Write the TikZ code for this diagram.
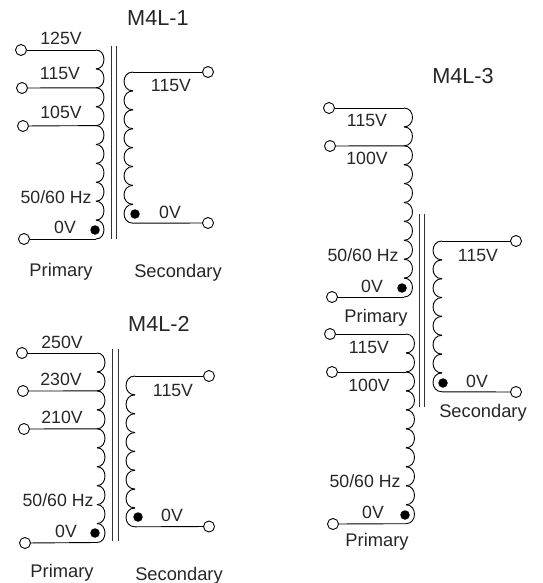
\documentclass[tikz,border=0pt]{standalone}
\usepackage{fontspec}
\setmainfont{Liberation Sans}
\newcommand{\coilR}[5]{% right-bulging: x, ytop, n, step, width
  \foreach \k in {1,...,#3}{
    \draw[wire] (#1,{#2+(\k-1)*#4}) .. controls ({#1+1.33*#5},{#2+(\k-1)*#4}) and ({#1+1.33*#5},{#2+\k*#4}) .. (#1,{#2+\k*#4});
  }}
\tikzset{
  x=1pt,y=-1pt,
  wire/.style={draw=black,line width=0.9pt},
  corebar/.style={draw=black!80,line width=0.9pt},
  term/.style={circle,draw=black,fill=white,line width=0.9pt,minimum size=11pt,inner sep=0pt},
  lab/.style={anchor=base,font=\fontsize{17.7}{20}\selectfont,text=black!85,inner sep=0pt},
  caplab/.style={lab,font=\fontsize{18.3}{20}\selectfont},
  titlelab/.style={anchor=base,font=\fontsize{21.7}{24}\selectfont,text=black!85,inner sep=0pt},
  dotmark/.style={circle,fill=black,minimum size=9.5pt,inner sep=0pt}
}
\begin{document}
\begin{tikzpicture}
\useasboundingbox (0,0) rectangle (542,583);
% ---------- M4L-1
\coilR{96}{50}{10}{18.9}{8}
\coilR{133}{72}{8}{18.9}{-9}
\coordinate (a1) at (96,50); \coordinate (a2) at (96,87.8); \coordinate (a3) at (96,125.6); \coordinate (a4) at (96,239);
\coordinate (a5) at (133,72); \coordinate (a6) at (133,223.2);
\node[term] (ta1) at (21,50) {}; \node[term] (ta2) at (22,88) {}; \node[term] (ta3) at (23,126) {}; \node[term] (ta4) at (24,239) {};
\node[term] (ta5) at (208,72) {}; \node[term] (ta6) at (208,223) {};
\draw[wire] (ta1)--(a1); \draw[wire] (ta2)--(a2); \draw[wire] (ta3)--(a3); \draw[wire] (ta4)--(a4);
\draw[wire] (a5)--(ta5); \draw[wire] (a6)--(ta6);
\coordinate (ca1) at (111,46); \coordinate (ca2) at (111,239); \coordinate (ca3) at (116,46); \coordinate (ca4) at (116,239);
\draw[corebar] (ca1)--(ca2); \draw[corebar] (ca3)--(ca4);
\node[dotmark] (da1) at (95,230) {}; \node[dotmark] (da2) at (135,214) {};
\node[titlelab] (na0) at (158,26) {M4L-1};
\node[lab] (na1) at (61,45) {125V}; \node[lab] (na2) at (60,80) {115V}; \node[lab] (na3) at (61,119) {105V};
\node[lab] (na4) at (56,203) {50/60 Hz}; \node[lab] (na5) at (65,233) {0V};
\node[lab] (na6) at (171,92) {115V}; \node[lab] (na7) at (170,218) {0V};
\node[caplab] (na8) at (61,276) {Primary}; \node[caplab] (na9) at (178,277) {Secondary};
% ---------- M4L-2
\coilR{97}{353}{10}{18.95}{8}
\coilR{135}{376}{8}{18.85}{-9}
\coordinate (b1) at (97,353); \coordinate (b2) at (97,390.9); \coordinate (b3) at (97,428.8); \coordinate (b4) at (97,542.5);
\coordinate (b5) at (135,376); \coordinate (b6) at (135,526.8);
\node[term] (tb1) at (22,353) {}; \node[term] (tb2) at (23,391) {}; \node[term] (tb3) at (24,429) {}; \node[term] (tb4) at (25,543) {};
\node[term] (tb5) at (209,376) {}; \node[term] (tb6) at (209,526.5) {};
\draw[wire] (tb1)--(b1); \draw[wire] (tb2)--(b2); \draw[wire] (tb3)--(b3); \draw[wire] (tb4)--(b4);
\draw[wire] (b5)--(tb5); \draw[wire] (b6)--(tb6);
\coordinate (cb1) at (112,349); \coordinate (cb2) at (112,541); \coordinate (cb3) at (118,349); \coordinate (cb4) at (118,541);
\draw[corebar] (cb1)--(cb2); \draw[corebar] (cb3)--(cb4);
\node[dotmark] (db1) at (95,533) {}; \node[dotmark] (db2) at (138,517) {};
\node[titlelab] (nb0) at (159,331) {M4L-2};
\node[lab] (nb1) at (62,348) {250V}; \node[lab] (nb2) at (61,385) {230V}; \node[lab] (nb3) at (62,423) {210V};
\node[lab] (nb4) at (58,506) {50/60 Hz}; \node[lab] (nb5) at (66,537) {0V};
\node[lab] (nb6) at (173,396) {115V}; \node[lab] (nb7) at (172,521) {0V};
\node[caplab] (nb8) at (62,577) {Primary}; \node[caplab] (nb9) at (179,580) {Secondary};
% ---------- M4L-3
\coilR{404}{108}{10}{18.9}{8.5}
\coilR{406}{334}{10}{18.97}{8.5}
\coilR{442}{241}{8}{18.85}{-9}
\coordinate (c1) at (404,108); \coordinate (c2) at (404,145.8); \coordinate (c3) at (404,297);
\coordinate (c4) at (406,334); \coordinate (c5) at (406,372); \coordinate (c6) at (406,523.7);
\coordinate (c7) at (442,241); \coordinate (c8) at (442,391.8);
\node[term] (tc1) at (329,108) {}; \node[term] (tc2) at (330,146) {}; \node[term] (tc3) at (332,297) {};
\node[term] (tc4) at (330,334) {}; \node[term] (tc5) at (332,372) {}; \node[term] (tc6) at (333,524) {};
\node[term] (tc7) at (516,241) {}; \node[term] (tc8) at (516,392) {};
\draw[wire] (tc1)--(c1); \draw[wire] (tc2)--(c2); \draw[wire] (tc3)--(c3);
\draw[wire] (tc4)--(c4); \draw[wire] (tc5)--(c5); \draw[wire] (tc6)--(c6);
\draw[wire] (c7)--(tc7); \draw[wire] (c8)--(tc8);
\coordinate (cc1) at (419,214); \coordinate (cc2) at (419,407); \coordinate (cc3) at (424,214); \coordinate (cc4) at (424,407);
\draw[corebar] (cc1)--(cc2); \draw[corebar] (cc3)--(cc4);
\node[dotmark] (dc1) at (402,288) {}; \node[dotmark] (dc2) at (405,515) {}; \node[dotmark] (dc3) at (443,383) {};
\node[titlelab] (nc0) at (463,84) {M4L-3};
\node[lab] (nc1) at (367,127) {115V}; \node[lab] (nc2) at (367,164) {100V};
\node[lab] (nc3) at (363,261) {50/60 Hz}; \node[lab] (nc4) at (372,292) {0V};
\node[caplab] (nc5) at (376,322) {Primary};
\node[lab] (nc6) at (369,353) {115V}; \node[lab] (nc7) at (369,391) {100V};
\node[lab] (nc8) at (365,487) {50/60 Hz}; \node[lab] (nc9) at (373,518) {0V};
\node[caplab] (nc10) at (377,546) {Primary};
\node[lab] (nc11) at (478,261) {115V}; \node[lab] (nc12) at (477,387) {0V};
\node[caplab] (nc13) at (483,417) {Secondary};
\end{tikzpicture}
\end{document}
